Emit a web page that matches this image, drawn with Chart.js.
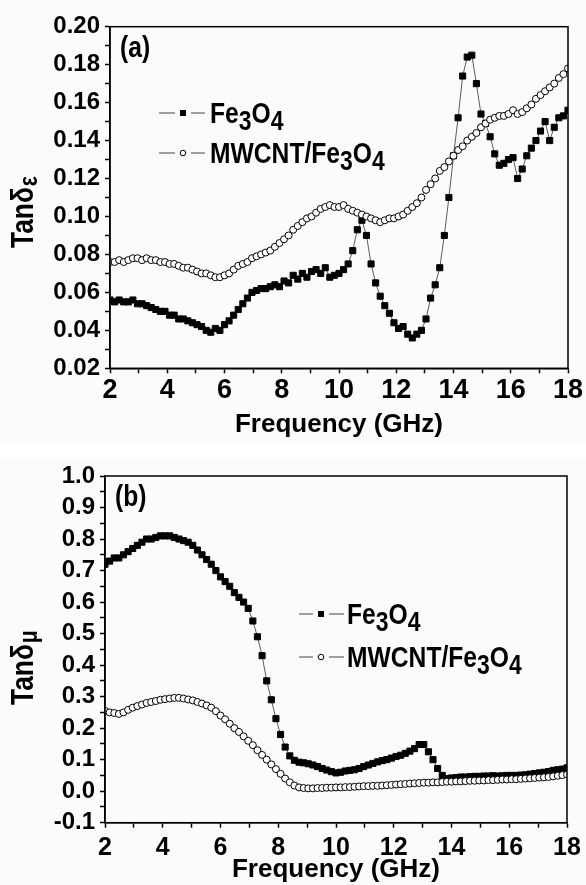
<!DOCTYPE html>
<html>
<head>
<meta charset="utf-8">
<script src="https://cdn.jsdelivr.net/npm/chart.js@4.4.1/dist/chart.umd.min.js"></script>
<style>
  html, body { margin: 0; padding: 0; background: #fbfbfb; }
  body { width: 586px; height: 885px; position: relative; overflow: hidden; }
  .panel { position: absolute; left: 0; width: 586px; }
  #gap { position: absolute; left: 0; top: 442px; width: 586px; height: 16px; background: #fff; }
</style>
</head>
<body>
<div class="panel" style="top:0;height:440px"><canvas id="chart-a"></canvas></div>
<div id="gap"></div>
<div class="panel" style="top:440px;height:445px"><canvas id="chart-b"></canvas></div>
<script>
// frequency points (GHz), shared by all four curves
const freqGHz = [
  2.00, 2.16, 2.32, 2.48, 2.64, 2.80, 2.96, 3.12, 3.28, 3.44,
  3.60, 3.76, 3.92, 4.08, 4.24, 4.40, 4.56, 4.72, 4.88, 5.04,
  5.20, 5.36, 5.52, 5.68, 5.84, 6.00, 6.16, 6.32, 6.48, 6.64,
  6.80, 6.96, 7.12, 7.28, 7.44, 7.60, 7.76, 7.92, 8.08, 8.24,
  8.40, 8.56, 8.72, 8.88, 9.04, 9.20, 9.36, 9.52, 9.68, 9.84,
  10.00, 10.16, 10.32, 10.48, 10.64, 10.80, 10.96, 11.12, 11.28, 11.44,
  11.60, 11.76, 11.92, 12.08, 12.24, 12.40, 12.56, 12.72, 12.88, 13.04,
  13.20, 13.36, 13.52, 13.68, 13.84, 14.00, 14.16, 14.32, 14.48, 14.64,
  14.80, 14.96, 15.12, 15.28, 15.44, 15.60, 15.76, 15.92, 16.08, 16.24,
  16.40, 16.56, 16.72, 16.88, 17.04, 17.20, 17.36, 17.52, 17.68, 17.84, 18.00
];

// (a) dielectric loss tangent
const tanEpsFe3O4 = [
  0.056, 0.055, 0.056, 0.055, 0.055, 0.056, 0.054, 0.054, 0.053, 0.052,
  0.051, 0.050, 0.050, 0.048, 0.048, 0.046, 0.046, 0.045, 0.044, 0.043,
  0.042, 0.040, 0.039, 0.041, 0.040, 0.043, 0.045, 0.048, 0.051, 0.054,
  0.057, 0.060, 0.061, 0.062, 0.062, 0.063, 0.064, 0.063, 0.066, 0.065,
  0.069, 0.067, 0.070, 0.068, 0.071, 0.072, 0.070, 0.073, 0.068, 0.069,
  0.070, 0.072, 0.075, 0.082, 0.093, 0.098, 0.090, 0.075, 0.065, 0.058,
  0.053, 0.049, 0.044, 0.041, 0.042, 0.038, 0.036, 0.038, 0.040, 0.046,
  0.057, 0.064, 0.073, 0.090, 0.110, 0.132, 0.152, 0.174, 0.184, 0.185,
  0.170, 0.154, 0.149, 0.142, 0.133, 0.127, 0.128, 0.130, 0.131, 0.120,
  0.125, 0.132, 0.136, 0.140, 0.145, 0.150, 0.140, 0.147, 0.152, 0.153, 0.156
];
const tanEpsMwcnt = [
  0.076, 0.076, 0.077, 0.076, 0.077, 0.078, 0.078, 0.077, 0.078, 0.077,
  0.077, 0.076, 0.076, 0.075, 0.075, 0.074, 0.073, 0.073, 0.072, 0.071,
  0.070, 0.070, 0.069, 0.068, 0.068, 0.069, 0.070, 0.072, 0.074, 0.075,
  0.076, 0.078, 0.079, 0.080, 0.081, 0.082, 0.084, 0.086, 0.088, 0.090,
  0.093, 0.095, 0.097, 0.099, 0.100, 0.102, 0.104, 0.105, 0.106, 0.105,
  0.105, 0.106, 0.104, 0.103, 0.102, 0.101, 0.100, 0.099, 0.098, 0.097,
  0.098, 0.099, 0.099, 0.100, 0.101, 0.103, 0.105, 0.107, 0.110, 0.114,
  0.117, 0.120, 0.124, 0.126, 0.129, 0.132, 0.135, 0.137, 0.140, 0.142,
  0.144, 0.147, 0.149, 0.151, 0.152, 0.153, 0.153, 0.154, 0.156, 0.154,
  0.155, 0.157, 0.159, 0.162, 0.164, 0.166, 0.168, 0.170, 0.173, 0.175, 0.178
];

// (b) magnetic loss tangent
const tanMuFe3O4 = [
  0.720, 0.730, 0.740, 0.740, 0.750, 0.760, 0.770, 0.780, 0.790, 0.800,
  0.800, 0.805, 0.810, 0.810, 0.810, 0.805, 0.800, 0.795, 0.790, 0.780,
  0.765, 0.750, 0.735, 0.720, 0.700, 0.680, 0.665, 0.650, 0.630, 0.615,
  0.600, 0.580, 0.540, 0.490, 0.430, 0.350, 0.290, 0.230, 0.180, 0.140,
  0.112, 0.098, 0.092, 0.090, 0.087, 0.083, 0.078, 0.072, 0.067, 0.062,
  0.058, 0.060, 0.064, 0.066, 0.068, 0.072, 0.078, 0.083, 0.088, 0.093,
  0.097, 0.100, 0.105, 0.110, 0.114, 0.120, 0.127, 0.135, 0.148, 0.148,
  0.125, 0.100, 0.072, 0.050, 0.040, 0.042, 0.043, 0.045, 0.045, 0.046,
  0.047, 0.047, 0.048, 0.048, 0.049, 0.048, 0.049, 0.050, 0.050, 0.050,
  0.051, 0.052, 0.054, 0.056, 0.058, 0.060, 0.062, 0.066, 0.068, 0.070, 0.074
];
const tanMuMwcnt = [
  0.255, 0.250, 0.248, 0.245, 0.250, 0.258, 0.265, 0.270, 0.275, 0.280,
  0.283, 0.286, 0.290, 0.292, 0.294, 0.296, 0.296, 0.294, 0.291, 0.288,
  0.283, 0.278, 0.272, 0.265, 0.254, 0.240, 0.228, 0.214, 0.200, 0.188,
  0.174, 0.160, 0.146, 0.130, 0.115, 0.100, 0.085, 0.070, 0.055, 0.040,
  0.028, 0.018, 0.012, 0.010, 0.009, 0.009, 0.010, 0.010, 0.011, 0.011,
  0.012, 0.012, 0.013, 0.013, 0.014, 0.015, 0.016, 0.016, 0.017, 0.017,
  0.018, 0.019, 0.020, 0.021, 0.022, 0.023, 0.024, 0.025, 0.026, 0.027,
  0.027, 0.028, 0.028, 0.029, 0.030, 0.030, 0.031, 0.031, 0.032, 0.033,
  0.033, 0.034, 0.034, 0.035, 0.035, 0.036, 0.037, 0.037, 0.038, 0.038,
  0.039, 0.040, 0.041, 0.042, 0.043, 0.044, 0.045, 0.047, 0.049, 0.051, 0.053
];

// labelled (major) ticks
const freqTicks = [2, 4, 6, 8, 10, 12, 14, 16, 18];
const epsTicks = [0.02, 0.04, 0.06, 0.08, 0.10, 0.12, 0.14, 0.16, 0.18, 0.20];
const muTicks = [-0.1, 0.0, 0.1, 0.2, 0.3, 0.4, 0.5, 0.6, 0.7, 0.8, 0.9, 1.0];

const seriesNames = ['Fe3O4', 'MWCNT/Fe3O4'];
const xTitle = 'Frequency (GHz)';

const FONT = "'Liberation Sans', Arial, sans-serif";
const SQUEEZE = 0.85; // the original lettering is a condensed bold face

// text drawn squeezed; digits become subscripts (Fe3O4)
function drawChem(ctx, text, x, y, size, subSize, drop) {
  ctx.save();
  ctx.translate(x, y);
  ctx.scale(SQUEEZE, 1);
  let cx = 0;
  for (const run of text.match(/\d+|\D+/g)) {
    const sub = /\d/.test(run);
    ctx.font = `bold ${sub ? subSize : size}px ${FONT}`;
    ctx.fillText(run, cx, sub ? drop : 0);
    cx += ctx.measureText(run).width;
  }
  ctx.restore();
}

const decorPlugin = {
  id: 'decor',
  afterDraw(chart, args, o) {
    const { ctx, chartArea: a } = chart;
    ctx.save();
    // closed frame
    ctx.strokeStyle = '#000';
    ctx.lineWidth = 1.5;
    ctx.strokeRect(a.left, a.top, a.right - a.left, a.bottom - a.top);

    ctx.fillStyle = '#000';
    ctx.textBaseline = 'alphabetic';
    ctx.textAlign = 'left';
    drawChem(ctx, o.tag, o.tagX, o.tagY, 29, 29, 0);

    // rotated y title with subscript
    ctx.save();
    ctx.translate(o.yTitleX, o.yTitleY);
    ctx.rotate(-Math.PI / 2);
    ctx.scale(SQUEEZE, 1);
    ctx.font = `bold 31px ${FONT}`;
    ctx.fillText(o.yTitle[0], 0, 0);
    const w = ctx.measureText(o.yTitle[0]).width;
    ctx.font = `bold 25px ${FONT}`;
    ctx.fillText(o.yTitle[1], w + 1, 4);
    ctx.restore();

    // legend
    const L = o.legend;
    seriesNames.forEach((name, i) => {
      const y = L.rows[i];
      ctx.strokeStyle = '#444';
      ctx.lineWidth = 1;
      ctx.beginPath();
      ctx.moveTo(L.x0, y); ctx.lineTo(L.mx - 8, y);
      ctx.moveTo(L.mx + 8, y); ctx.lineTo(L.x1, y);
      ctx.stroke();
      ctx.strokeStyle = '#000';
      if (i === 0) {
        ctx.fillStyle = '#000';
        ctx.fillRect(L.mx - 3, y - 3, 6, 6);
      } else {
        ctx.fillStyle = '#fff';
        ctx.beginPath();
        ctx.arc(L.mx, y, 2.8, 0, Math.PI * 2);
        ctx.fill(); ctx.stroke();
      }
      ctx.fillStyle = '#000';
      drawChem(ctx, name, L.text, y + 10, L.size, L.size - 2, 7);
    });
    ctx.restore();
  }
};

function nearest(list, v) {
  return list.find(t => Math.abs(t - v) < 1e-6);
}

function buildPanel(id, p) {
  const ctx = document.getElementById(id).getContext('2d');
  const mk = vals => freqGHz.map((f, i) => ({ x: f, y: vals[i] }));
  return new Chart(ctx, {
    type: 'line',
    data: {
      datasets: [
        {
          label: seriesNames[0],
          data: mk(p.values[0]),
          order: 2,
          borderColor: '#333',
          borderWidth: 0.8,
          pointStyle: 'rect',
          pointRadius: 4.3,
          pointBackgroundColor: '#000',
          pointBorderColor: '#000',
          pointBorderWidth: 1,
          tension: 0,
        },
        {
          label: seriesNames[1],
          data: mk(p.values[1]),
          order: 1,
          borderColor: '#333',
          borderWidth: 0.8,
          pointStyle: 'circle',
          pointRadius: 3.5,
          pointBackgroundColor: '#fff',
          pointBorderColor: '#000',
          pointBorderWidth: 1,
          tension: 0,
        },
      ],
    },
    options: {
      responsive: true,
      maintainAspectRatio: false,
      animation: false,
      layout: { padding: { left: 0, top: p.padTop, right: p.padRight, bottom: 0 } },
      plugins: {
        legend: { display: false },
        tooltip: { enabled: false },
        decor: p.decor,
      },
      scales: {
        x: {
          type: 'linear',
          min: 2,
          max: 18,
          afterFit: s => { s.height = p.xHeight; },
          ticks: {
            stepSize: 1,
            autoSkip: false,
            maxRotation: 0,
            padding: p.xTickPad,
            color: '#000',
            font: { family: FONT, size: p.xFont, weight: 'bold' },
            callback: v => { const t = nearest(freqTicks, v); return t === undefined ? '' : String(t); },
          },
          grid: { drawOnChartArea: false, drawTicks: true, tickLength: 5, tickWidth: 1.5, tickColor: '#000' },
          border: { display: true, color: '#000', width: 1.5 },
          title: {
            display: true,
            text: xTitle,
            color: '#000',
            font: { family: FONT, size: 26, weight: 'bold' },
            padding: { top: 0, bottom: 0 },
          },
        },
        y: {
          type: 'linear',
          min: p.yMin,
          max: p.yMax,
          afterFit: s => { s.width = p.yWidth; },
          ticks: {
            stepSize: p.yStep,
            autoSkip: false,
            padding: 5,
            color: '#000',
            font: { family: FONT, size: 24, weight: 'bold' },
            callback: v => { const t = nearest(p.yMajor, v); return t === undefined ? '' : t.toFixed(p.yDec); },
          },
          grid: { drawOnChartArea: false, drawTicks: true, tickLength: 5, tickWidth: 1.5, tickColor: '#000' },
          border: { display: true, color: '#000', width: 1.5 },
        },
      },
    },
    plugins: [decorPlugin],
  });
}

buildPanel('chart-a', {
  values: [tanEpsFe3O4, tanEpsMwcnt],
  yMin: 0.02, yMax: 0.20, yStep: 0.01, yMajor: epsTicks, yDec: 2,
  yWidth: 110, xHeight: 71.7, padTop: 26.7, padRight: 18,
  xFont: 27, xTickPad: 1,
  decor: {
    tag: '(a)', tagX: 120, tagY: 57,
    yTitle: ['Tanδ', 'ε'], yTitleX: 33, yTitleY: 248,
    legend: { x0: 159, x1: 205, mx: 183, text: 210, rows: [113, 153], size: 29 },
  },
});

buildPanel('chart-b', {
  values: [tanMuFe3O4, tanMuMwcnt],
  yMin: -0.1, yMax: 1.0, yStep: 0.05, yMajor: muTicks, yDec: 1,
  yWidth: 105, xHeight: 62.3, padTop: 36, padRight: 19,
  xFont: 25, xTickPad: 5,
  decor: {
    tag: '(b)', tagX: 115, tagY: 66,
    yTitle: ['Tanδ', 'μ'], yTitleX: 33, yTitleY: 265,
    legend: { x0: 299, x1: 344, mx: 321, text: 347, rows: [174, 217], size: 29 },
  },
});
</script>
</body>
</html>
